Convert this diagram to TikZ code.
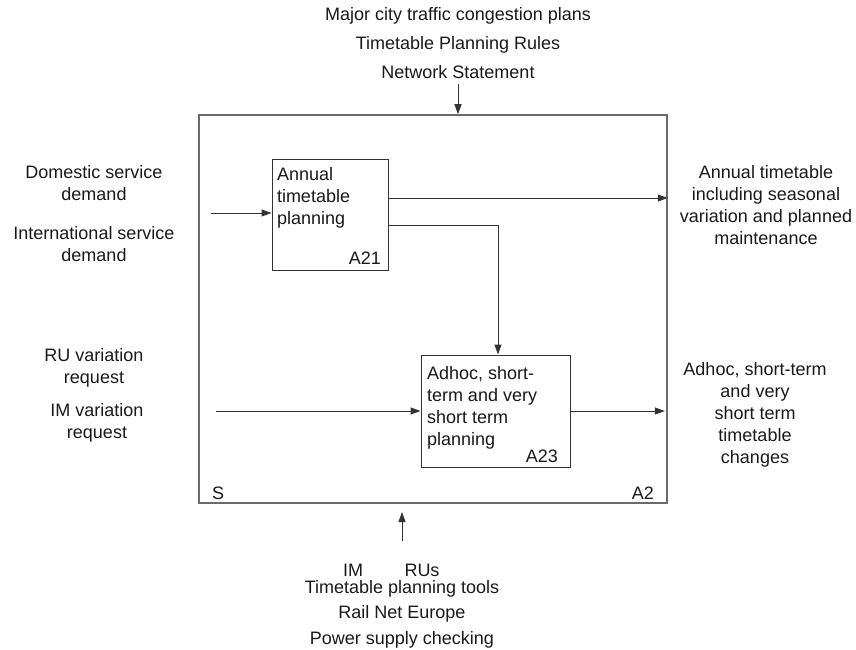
\documentclass[tikz,border=0pt]{standalone}
\usepackage{fontspec}
\setmainfont{Liberation Sans}
\usetikzlibrary{arrows.meta}
\begin{document}
\begin{tikzpicture}[x=1pt,y=-1pt,
  lbl/.style={inner sep=0pt,outer sep=0pt,text=black!90,align=center,
    font=\fontsize{18}{22}\selectfont},
  boxtext/.style={lbl,align=left,anchor=base west},
  tag/.style={lbl,anchor=base east},
  frame/.style={draw=black!58,line width=1.6pt,inner sep=0pt},
  actbox/.style={draw=black!80,line width=1pt,inner sep=0pt,fill=white},
  flow/.style={draw=black!80,line width=1pt,-{Triangle[length=10pt,width=7pt]}}]
\useasboundingbox (0,0) rectangle (856,649);

% context box A2
\node[frame,minimum width=468pt,minimum height=388pt] (A2box) at (433,309) {};
\node[lbl,anchor=base west] (S) at (212,499) {S};
\node[tag] (A2) at (654,499) {A2};

% activity A21 (text anchored on the baseline of its last line)
\node[actbox,minimum width=116pt,minimum height=111pt] (A21box) at (330,214.5) {};
\node[boxtext] (A21text) at (277,224) {Annual\\timetable\\planning};
\node[tag] (A21) at (381,264) {A21};

% activity A23
\node[actbox,minimum width=149pt,minimum height=112pt] (A23box) at (495.5,411) {};
\node[boxtext] (A23text) at (427,445) {Adhoc, short-\\term and very\\short term\\planning};
\node[tag] (A23) at (558,462) {A23};

% controls
\node[lbl] (ctl1) at (458,16) {Major city traffic congestion plans};
\node[lbl] (ctl2) at (458,45) {Timetable Planning Rules};
\node[lbl] (ctl3) at (458,72) {Network Statement};

% inputs
\node[lbl] (in1) at (94,183) {Domestic service\\demand};
\node[lbl] (in2) at (94,244) {International service\\demand};
\node[lbl] (in3) at (94,367.5) {RU variation\\request};
\node[lbl] (in4) at (97,422.5) {IM variation\\request};

% outputs
\node[lbl] (out1) at (766,205.5) {Annual timetable\\including seasonal\\variation and planned\\maintenance};
\node[lbl] (out2) at (755,415) {Adhoc, short-term\\and very\\short term\\timetable\\changes};

% mechanisms
\node[lbl] (m1) at (353,570) {IM};
\node[lbl] (m2) at (422,570) {RUs};
\node[lbl] (m3) at (402,589) {Timetable planning tools};
\node[lbl] (m4) at (402,614) {Rail Net Europe};
\node[lbl] (m5) at (402,640) {Power supply checking};

% free ends of the boundary arrows
\coordinate (ctlsrc) at (458,84);
\coordinate (in21) at (211,213);
\coordinate (in23) at (216,411);
\coordinate (mechsrc) at (402,541);
\coordinate (mechtip) at (402,512);

% connectors
\draw[flow] (ctlsrc) -- (ctlsrc |- A2box.north);
\draw[flow] (in21) -- (in21 -| A21box.west);
\draw[flow] ([yshift=16.5pt]A21box.east) -- ([yshift=16.5pt]A21box.east -| A2box.east);
\draw[flow] ([yshift=-10.5pt]A21box.east) -| ([xshift=2.5pt]A23box.north);
\draw[flow] (in23) -- (A23box.west);
\draw[flow] (A23box.east) -- ([xshift=-3pt]A23box.east -| A2box.east);
\draw[flow] (mechsrc) -- (mechtip);
\end{tikzpicture}
\end{document}
